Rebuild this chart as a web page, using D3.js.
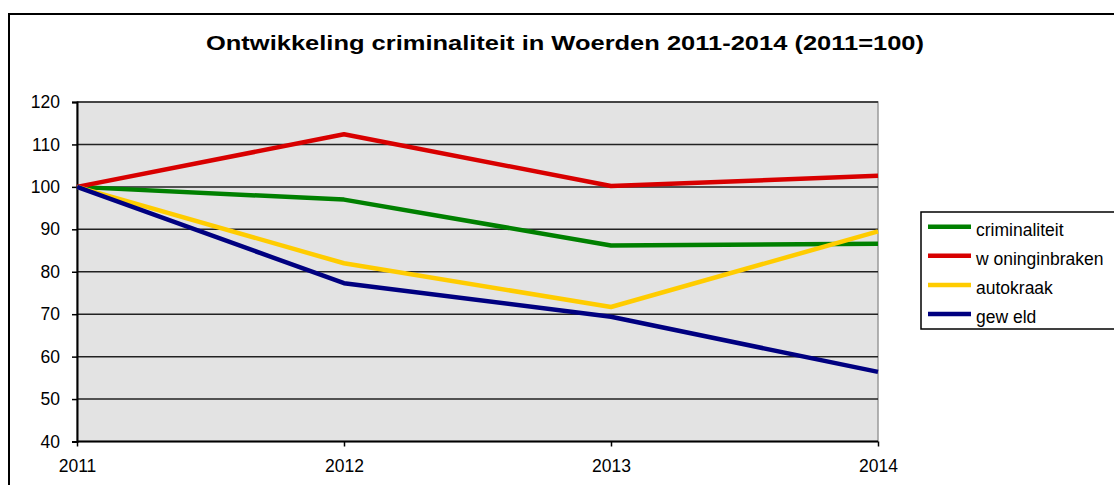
<!DOCTYPE html>
<html>
<head>
<meta charset="utf-8">
<script src="https://cdn.jsdelivr.net/npm/d3@7"></script>
<style>
  body { margin: 0; background: #fff; }
  svg { display: block; font-family: Arial, "Liberation Sans", sans-serif; }
</style>
</head>
<body>
<svg id="chart" width="1114" height="485"></svg>
<script>
// data
const years = [2011, 2012, 2013, 2014];
const criminaliteit = [100, 97.0, 86.2, 86.6];
const woninginbraken = [100, 112.4, 100.2, 102.6];
const autokraak = [100, 82.0, 71.7, 89.5];
const geweld = [100, 77.3, 69.4, 56.4];
const yTicks = [40, 50, 60, 70, 80, 90, 100, 110, 120];
const seriesNames = ["criminaliteit", "w oninginbraken", "autokraak", "gew eld"];
const seriesColors = ["#008000", "#d80000", "#ffcc00", "#000080"];

const series = [criminaliteit, woninginbraken, autokraak, geweld].map((values, i) => ({
  name: seriesNames[i], color: seriesColors[i], values
}));

const labelFont = "17.5px";
const svg = d3.select("#chart");

// outer chart border (runs off the right and bottom edge)
svg.append("rect")
  .attr("x", 9).attr("y", 14)
  .attr("width", 1130).attr("height", 500)
  .attr("fill", "none").attr("stroke", "#000").attr("stroke-width", 2);

// title, glyphs stretched like the original rendering
svg.append("text")
  .attr("x", 565).attr("y", 49.5)
  .attr("text-anchor", "middle")
  .attr("textLength", 718)
  .attr("lengthAdjust", "spacingAndGlyphs")
  .style("font-size", "21px").style("font-weight", "bold")
  .text("Ontwikkeling criminaliteit in Woerden 2011-2014 (2011=100)");

// scales
const x = d3.scalePoint().domain(years).range([77, 878]);
const y = d3.scaleLinear().domain([40, 120]).range([441.5, 102]);

const plot = svg.append("g");

// plot background
plot.append("rect")
  .attr("x", 77).attr("y", 102)
  .attr("width", 878 - 77).attr("height", 441.5 - 102)
  .attr("fill", "#e3e3e3")
  .attr("stroke", "#9a9a9a").attr("stroke-width", 1.5);

// gridlines
plot.selectAll("line.grid")
  .data(yTicks.filter(d => d > 40))
  .join("line")
  .attr("class", "grid")
  .attr("x1", 77).attr("x2", 878)
  .attr("y1", d => y(d)).attr("y2", d => y(d))
  .attr("stroke", "#222").attr("stroke-width", 1.5);

// y axis
const yAxis = d3.axisLeft(y).tickValues(yTicks).tickSize(5).tickPadding(12);
plot.append("g")
  .attr("transform", "translate(77,0)")
  .call(yAxis)
  .call(g => g.select(".domain").attr("stroke", "#000").attr("stroke-width", 2))
  .call(g => g.selectAll(".tick line").attr("stroke", "#000").attr("stroke-width", 1.5))
  .call(g => g.selectAll(".tick text").attr("fill", "#000").style("font-size", labelFont).style("font-family", "Arial, 'Liberation Sans', sans-serif"));

// x axis
const xAxis = d3.axisBottom(x).tickSize(5).tickPadding(13);
plot.append("g")
  .attr("transform", "translate(0,441.5)")
  .call(xAxis)
  .call(g => g.select(".domain").attr("stroke", "#000").attr("stroke-width", 2).attr("d", "M77,0H878"))
  .call(g => g.selectAll(".tick line").attr("stroke", "#000").attr("stroke-width", 1.5))
  .call(g => g.selectAll(".tick text").attr("fill", "#000").style("font-size", labelFont).style("font-family", "Arial, 'Liberation Sans', sans-serif"));

// lines
const line = d3.line()
  .x((d, i) => x(years[i]))
  .y(d => y(d));

plot.selectAll("path.series")
  .data(series)
  .join("path")
  .attr("class", "series")
  .attr("d", d => line(d.values))
  .attr("fill", "none")
  .attr("stroke", d => d.color)
  .attr("stroke-width", 4.5)
  .attr("stroke-linejoin", "round");

// legend
const legend = svg.append("g").attr("transform", "translate(921,212)");
legend.append("rect")
  .attr("x", 0).attr("y", 0)
  .attr("width", 230).attr("height", 117)
  .attr("fill", "#fff").attr("stroke", "#000").attr("stroke-width", 1.5);

const item = legend.selectAll("g.item")
  .data(series)
  .join("g")
  .attr("class", "item")
  .attr("transform", (d, i) => `translate(0,${14.7 + i * 29.1})`);

item.append("line")
  .attr("x1", 7).attr("x2", 50)
  .attr("stroke", d => d.color).attr("stroke-width", 4.5);

item.append("text")
  .attr("x", 55).attr("y", 9)
  .style("font-size", labelFont)
  .text(d => d.name);
</script>
</body>
</html>
